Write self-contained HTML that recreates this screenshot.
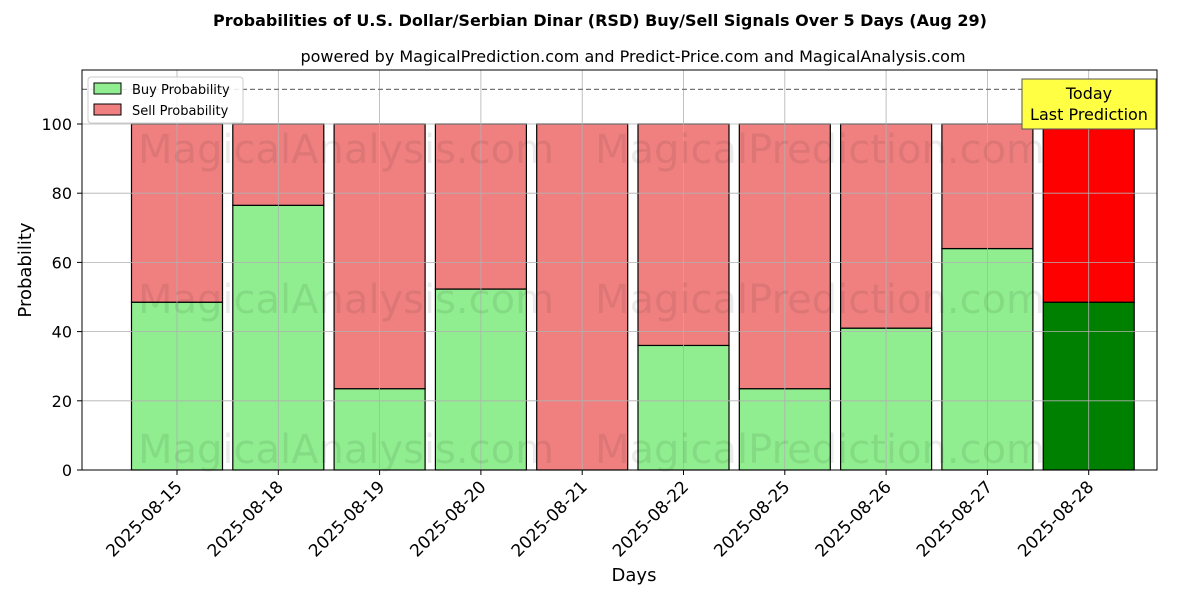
<!DOCTYPE html>
<html><head><meta charset="utf-8"><style>
body{margin:0;background:#fff;font-family:"Liberation Sans","DejaVu Sans",sans-serif}
svg text{font-family:"DejaVu Sans","Liberation Sans",sans-serif}
</style></head><body>
<svg id="chart" width="1200" height="600" xmlns="http://www.w3.org/2000/svg">
<text x="600" y="26" text-anchor="middle" font-size="16" font-weight="bold">Probabilities of U.S. Dollar/Serbian Dinar (RSD) Buy/Sell Signals Over 5 Days (Aug 29)</text>
<text x="633" y="62" text-anchor="middle" font-size="16">powered by MagicalPrediction.com and Predict-Price.com and MagicalAnalysis.com</text>
<g id="bars"></g>
<g id="grid"></g>
<g id="wm" fill="#000" fill-opacity="0.08" font-size="40">
<text x="346" y="163" text-anchor="middle">MagicalAnalysis.com</text>
<text x="820" y="163" text-anchor="middle">MagicalPrediction.com</text>
<text x="346" y="313" text-anchor="middle">MagicalAnalysis.com</text>
<text x="820" y="313" text-anchor="middle">MagicalPrediction.com</text>
<text x="346" y="463" text-anchor="middle">MagicalAnalysis.com</text>
<text x="820" y="463" text-anchor="middle">MagicalPrediction.com</text>
</g>
<line x1="82" x2="1157" y1="89.4" y2="89.4" stroke="#777" stroke-dasharray="5,3" stroke-width="1.2"/>
<rect x="82" y="70" width="1075" height="400" fill="none" stroke="#000" stroke-width="1"/>
<g id="axes"></g>
<text x="634" y="581" text-anchor="middle" font-size="18">Days</text>
<text transform="translate(31,270) rotate(-90)" text-anchor="middle" font-size="18">Probability</text>
<g>
<rect x="88" y="77" width="155" height="46" fill="#fff" fill-opacity="0.85" stroke="#ccc" rx="3"/>
<rect x="94" y="83" width="27" height="11" fill="#90ee90" stroke="#000"/>
<text x="132" y="94" font-size="13">Buy Probability</text>
<rect x="94" y="104" width="27" height="11" fill="#f08080" stroke="#000"/>
<text x="132" y="115" font-size="13">Sell Probability</text>
</g>
<g>
<rect x="1022" y="79" width="134" height="50" fill="#ffff44" stroke="#555"/>
<text x="1089" y="99" text-anchor="middle" font-size="16">Today</text>
<text x="1089" y="120" text-anchor="middle" font-size="16">Last Prediction</text>
</g>
</svg>
<script>
const categories=["2025-08-15","2025-08-18","2025-08-19","2025-08-20","2025-08-21","2025-08-22","2025-08-25","2025-08-26","2025-08-27","2025-08-28"];
const buyValues=[48.5,76.5,23.5,52.3,0,36,23.5,41,64,48.5];
const sellValues=[51.5,23.5,76.5,47.7,100,64,76.5,59,36,51.5];
const yTicks=[0,20,40,60,80,100];
const NS="http://www.w3.org/2000/svg";
const x=i=>177+i*101.3;
const y=v=>470-v*3.46;
const bw=91;
function mk(tag,attrs,parent){const e=document.createElementNS(NS,tag);for(const k in attrs)e.setAttribute(k,attrs[k]);parent.appendChild(e);return e;}
const grid=document.getElementById('grid'),bars=document.getElementById('bars'),axes=document.getElementById('axes');
yTicks.forEach(t=>{
 const l=mk('line',{x1:82,x2:1157,y1:y(t),y2:y(t),stroke:'#b0b0b0','stroke-width':0.8},grid);
 
 
 mk('line',{x1:77,x2:82,y1:y(t),y2:y(t),stroke:'#000'},axes);
 const tx=mk('text',{x:72,y:y(t)+6,'text-anchor':'end','font-size':16},axes);
 tx.textContent=t;
 
 
});
categories.forEach((c,i)=>{
 const l=mk('line',{x1:x(i),x2:x(i),y1:70,y2:470,stroke:'#b0b0b0','stroke-width':0.8},grid);
 
 
 const last=i===categories.length-1;
 const b=mk('rect',{x:x(i)-bw/2,y:y(buyValues[i]),width:bw,height:y(0)-y(buyValues[i]),fill:last?'#008000':'#90ee90',stroke:'#000','stroke-width':1.2},bars);
 
 
 const s=mk('rect',{x:x(i)-bw/2,y:y(buyValues[i]+sellValues[i]),width:bw,height:y(buyValues[i])-y(buyValues[i]+sellValues[i]),fill:last?'#ff0000':'#f08080',stroke:'#000','stroke-width':1.2},bars);
 
 
 mk('line',{x1:x(i),x2:x(i),y1:470,y2:475,stroke:'#000'},axes);
 const tx=mk('text',{x:x(i)+6,y:488,'text-anchor':'end','font-size':17,transform:`rotate(-45 ${x(i)+6} 488)`},axes);
 tx.textContent=c;
 
 
});
</script>
</body></html>
